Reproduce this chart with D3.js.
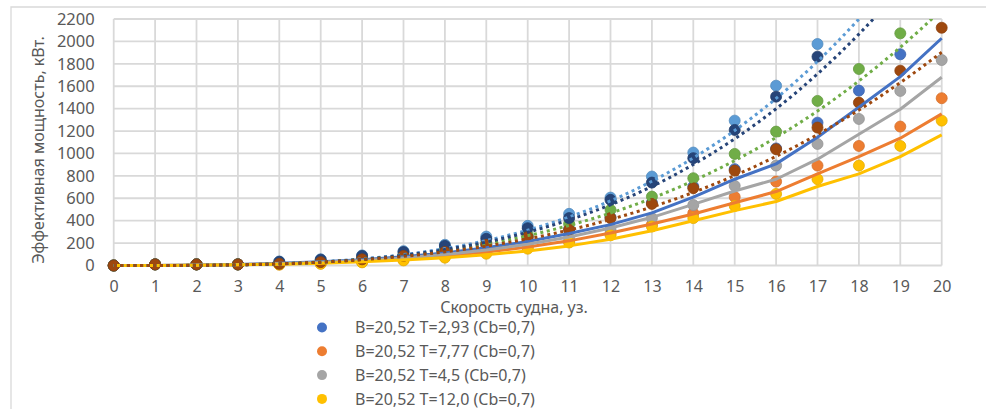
<!DOCTYPE html>
<html>
<head>
<meta charset="utf-8">
<script src="https://cdn.jsdelivr.net/npm/d3@7"></script>
<style>
  html, body { margin: 0; padding: 0; background: #ffffff; }
  svg { display: block; }
  text { font-family: "Noto Sans", "DejaVu Sans", sans-serif; fill: #595959; }
</style>
</head>
<body>
<div id="chart"></div>
<script>
// Ship speed, knots
const speeds = [0, 1, 2, 3, 4, 5, 6, 7, 8, 9, 10, 11, 12, 13, 14, 15, 16, 17, 18, 19, 20];
const yTicks = [0, 200, 400, 600, 800, 1000, 1200, 1400, 1600, 1800, 2000, 2200];

// Effective power, kW — measured points (null = beyond the axis limit)
const ptBlue      = [0, 10, 10, 10, 15, 30, 55, 88, 125, 190, 258, 325, 430, 560, 705, 860, 1045, 1275, 1561, 1885, null];
const ptOrange    = [0, 10, 10, 10, 9, 18, 32, 52, 80, 115, 160, 215, 285, 365, 467, 612, 749, 892, 1067, 1240, 1493];
const ptGray      = [0, 10, 10, 10, 12, 25, 40, 65, 95, 135, 185, 250, 324, 423, 540, 711, 892, 1085, 1308, 1558, 1834];
const ptYellow    = [0, 10, 10, 10, 8, 15, 28, 45, 70, 105, 150, 205, 270, 348, 423, 532, 639, 770, 892, 1067, 1293];
const ptLightBlue = [0, 10, 10, 10, 36, 55, 90, 128, 185, 258, 354, 461, 606, 794, 1008, 1293, 1605, 1977, null, null, null];
const ptGreen     = [0, 10, 10, 10, 20, 38, 62, 95, 140, 205, 274, 372, 497, 615, 779, 996, 1195, 1469, 1754, 2072, null];
const ptNavy      = [0, 10, 10, 10, 33, 52, 85, 120, 175, 238, 333, 423, 586, 740, 958, 1210, 1507, 1864, null, null, null];
const ptBrown     = [0, 10, 10, 10, 15, 30, 55, 85, 120, 185, 253, 318, 423, 550, 690, 847, 1038, 1231, 1454, 1739, 2122];

// Calculated power curves (solid lines)
const lineBlue   = [0, 1, 4, 10, 19, 33, 52, 78, 112, 158, 215, 285, 365, 470, 610, 770, 907, 1145, 1413, 1686, 2028];
const lineGray   = [0, 1, 3, 8, 16, 28, 45, 68, 98, 138, 190, 255, 335, 430, 545, 665, 770, 949, 1172, 1395, 1680];
const lineOrange = [0, 1, 3, 7, 14, 25, 40, 60, 86, 120, 165, 220, 290, 370, 460, 560, 660, 818, 972, 1136, 1353];
const lineYellow = [0, 1, 2, 6, 12, 21, 34, 50, 70, 96, 130, 175, 235, 310, 400, 490, 571, 705, 818, 972, 1166];

// Power-law trend lines (dotted)
const trendLightBlue = [0, 0.2, 1.6, 6, 15, 32, 59, 97, 151, 223, 316, 433, 577, 752, 960, 1205, 1491, 1821, 2200, 2629, 3115];
const trendGreen     = [0, 0.2, 1.8, 6.4, 15.6, 31, 55, 88, 133, 192, 266, 358, 468, 600, 756, 936, 1143, 1379, 1647, 1947, 2283];
const trendNavy      = [0, 0.2, 1.5, 5.6, 14.4, 30, 55, 91.5, 142, 209, 297, 407, 542, 705, 901, 1131, 1399, 1710, 2065, 2468, 2923];
const trendBrown     = [0, 0.24, 1.9, 6.4, 15.2, 29.7, 51.4, 81.6, 121.8, 173.4, 237.9, 316.6, 411, 522.6, 652.7, 802.8, 974.3, 1168.7, 1387.3, 1631.7, 1903];

const legendLabels = [
  "B=20,52 T=2,93 (Cb=0,7)",
  "B=20,52 T=7,77 (Cb=0,7)",
  "B=20,52 T=4,5 (Cb=0,7)",
  "B=20,52 T=12,0 (Cb=0,7)"
];
const xTitle = "Скорость судна, уз.";
const yTitle = "Эффективная мощность, кВт.";

const C = {
  blue: "#4472C4", orange: "#ED7D31", gray: "#A5A5A5", yellow: "#FFC000",
  lightBlue: "#5B9BD5", green: "#70AD47", navy: "#264478", brown: "#9E480E"
};

const pointSeries = [
  { v: ptBlue, c: C.blue }, { v: ptOrange, c: C.orange }, { v: ptGray, c: C.gray },
  { v: ptYellow, c: C.yellow }, { v: ptLightBlue, c: C.lightBlue }, { v: ptGreen, c: C.green },
  { v: ptNavy, c: C.navy }, { v: ptBrown, c: C.brown }
];
const solidLines = [
  { v: lineBlue, c: C.blue }, { v: lineOrange, c: C.orange },
  { v: lineGray, c: C.gray }, { v: lineYellow, c: C.yellow }
];
const dottedLines = [
  { v: trendLightBlue, c: C.lightBlue }, { v: trendGreen, c: C.green },
  { v: trendNavy, c: C.navy }, { v: trendBrown, c: C.brown }
];

const W = 986, H = 409;
const svg = d3.select("#chart").append("svg").attr("width", W).attr("height", H);

// chart frame (runs past the right and bottom edges)
svg.append("path").attr("d", `M11,${H + 5} L11,7 L${W + 5},7`)
  .attr("fill", "none").attr("stroke", "#d9d9d9").attr("stroke-width", 1.3);

const x = d3.scaleLinear().domain([0, 20]).range([113.7, 941.7]);
const y = d3.scaleLinear().domain([0, 2200]).range([265.5, 19]);

svg.append("clipPath").attr("id", "plot")
  .append("rect").attr("x", x(0) - 8).attr("y", y(2200)).attr("width", x(20) - x(0) + 16).attr("height", y(0) - y(2200) + 10);

// grid
const grid = svg.append("g");
grid.selectAll("line.h").data(yTicks).join("line")
  .attr("x1", x(0)).attr("x2", x(20)).attr("y1", d => y(d)).attr("y2", d => y(d))
  .attr("stroke", "#d9d9d9").attr("stroke-width", 1.8);
grid.selectAll("line.v").data(speeds).join("line")
  .attr("y1", y(0)).attr("y2", y(2200)).attr("x1", d => x(d)).attr("x2", d => x(d))
  .attr("stroke", "#d9d9d9").attr("stroke-width", 1.8);

// axes (labels only)
const yAxis = svg.append("g").attr("transform", `translate(${x(0) - 16},0)`)
  .call(d3.axisLeft(y).tickValues(yTicks).tickFormat(d3.format("d")).tickSize(0).tickPadding(3));
yAxis.select(".domain").remove();
yAxis.selectAll("text").attr("font-size", 16.5).attr("fill", "#595959")
  .attr("font-family", "Noto Sans");

const xAxis = svg.append("g").attr("transform", `translate(0,${y(0)})`)
  .call(d3.axisBottom(x).tickValues(speeds).tickFormat(d3.format("d")).tickSize(0).tickPadding(0));
xAxis.select(".domain").remove();
xAxis.selectAll("text").attr("font-size", 16).attr("fill", "#595959")
  .attr("font-family", "Noto Sans").attr("dy", null).attr("y", 26);

svg.append("text").attr("x", 514).attr("y", 313).attr("text-anchor", "middle")
  .attr("font-size", 16).text(xTitle);
svg.append("text").attr("transform", "translate(44,150) rotate(-90)")
  .attr("text-anchor", "middle").attr("font-size", 16).text(yTitle);

const plot = svg.append("g").attr("clip-path", "url(#plot)");

// points
pointSeries.forEach(s => {
  plot.append("g").selectAll("circle")
    .data(speeds.map((sp, i) => [sp, s.v[i]]).filter(d => d[1] !== null))
    .join("circle")
    .attr("cx", d => x(d[0])).attr("cy", d => y(d[1])).attr("r", 5.5)
    .attr("fill", s.c).attr("stroke", d3.color(s.c).darker(0.3)).attr("stroke-width", 0.8);
});

const lineGen = d3.line().x(d => x(d[0])).y(d => y(d[1]));
const smoothGen = d3.line().x(d => x(d[0])).y(d => y(d[1])).curve(d3.curveMonotoneX);

solidLines.forEach(s => {
  plot.append("path").datum(speeds.map((sp, i) => [sp, s.v[i]]))
    .attr("d", lineGen).attr("fill", "none").attr("stroke", s.c)
    .attr("stroke-width", 3).attr("stroke-linejoin", "round");
});
dottedLines.forEach(s => {
  plot.append("path").datum(speeds.map((sp, i) => [sp, s.v[i]]))
    .attr("d", smoothGen).attr("fill", "none").attr("stroke", s.c)
    .attr("stroke-width", 3).attr("stroke-dasharray", "3 3.6");
});

// legend
const legendColors = [C.blue, C.orange, C.gray, C.yellow];
const lg = svg.append("g");
legendLabels.forEach((t, i) => {
  const ly = 327.5 + i * 23.8;
  lg.append("circle").attr("cx", 322).attr("cy", ly).attr("r", 5)
    .attr("fill", legendColors[i]);
  lg.append("text").attr("x", 355).attr("y", ly).attr("dy", "0.35em")
    .attr("font-size", 16).text(t);
});
</script>
</body>
</html>
